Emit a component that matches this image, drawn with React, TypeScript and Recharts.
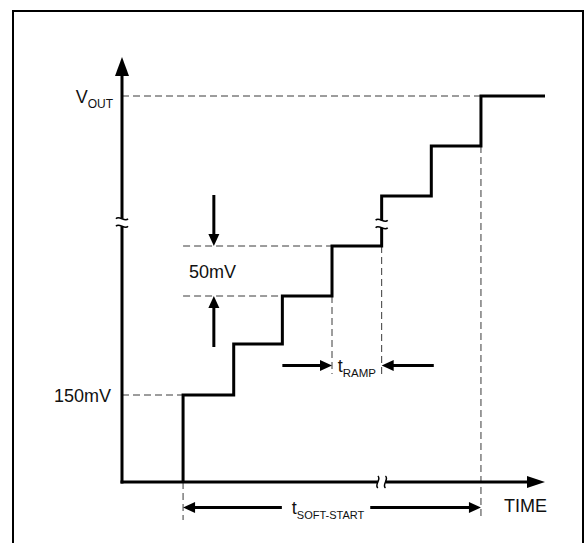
import React from 'react';
import { ComposedChart, Line, XAxis, YAxis, ReferenceLine, ReferenceDot } from 'recharts';

// time axis in units of t_RAMP, 0 = start of soft-start
const timeDomain = [-1.23, 7.29];
// voltage axis in units of one 50mV step (axis is broken in the middle)
const levelDomain = [0, 8.5];

const stepTimes = [0, 1.02, 2, 3, 4, 5, 6];
const stepLevels = [1.74, 2.76, 3.72, 4.72, 5.72, 6.72, 7.72];

const tMin = timeDomain[0];
const tMax = timeDomain[1];
const vOut = stepLevels[stepLevels.length - 1];

const staircase = [
  { t: stepTimes[0], v: 0 },
  ...stepTimes.map((t, i) => ({ t, v: stepLevels[i] })),
  { t: tMax, v: vOut },
];

// dashed guide lines [t1, v1, t2, v2]
const guides = [
  [tMin, vOut, stepTimes[6], vOut],
  [tMin, stepLevels[0], stepTimes[0], stepLevels[0]],
  [stepTimes[0], stepLevels[3], stepTimes[3], stepLevels[3]],
  [stepTimes[0], stepLevels[2], stepTimes[2], stepLevels[2]],
  [stepTimes[3], stepLevels[2], stepTimes[3], 2.16],
  [stepTimes[4], stepLevels[3], stepTimes[4], 2.16],
  [stepTimes[6], stepLevels[5], stepTimes[6], -0.76],
  [stepTimes[0], 0, stepTimes[0], -0.76],
];

// dimension arrows [fromT, fromV, toT, toV]
const arrows = [
  [0.62, 5.74, 0.62, stepLevels[3]],
  [0.62, 2.7, 0.62, stepLevels[2]],
  [2, 2.33, stepTimes[3], 2.33],
  [5.05, 2.33, stepTimes[4], 2.33],
  [1.99, -0.51, stepTimes[0], -0.51],
  [3.77, -0.51, stepTimes[6], -0.51],
];

// axis break marks: [t, v, direction]
const breaks = [
  [tMin, 5.19, 'v'],
  [stepTimes[4], 5.16, 'v'],
  [stepTimes[4], 0, 'h'],
];

const labels = [
  { t: tMin, v: vOut, main: 'V', sub: 'OUT', subSize: 12, anchor: 'end', dx: -9, dy: 6.5 },
  { t: tMin, v: stepLevels[0], main: '150mV', anchor: 'end', dx: -11, dy: 6.5 },
  { t: stepTimes[0], v: 4.22, main: '50mV', anchor: 'start', dx: 6, dy: 6.5 },
  { t: 3.5, v: 2.33, main: 't', sub: 'RAMP', subSize: 11.5, anchor: 'middle', dx: 0, dy: 6.5 },
  { t: 2.92, v: -0.51, main: 't', sub: 'SOFT-START', subSize: 11, anchor: 'middle', dx: 0, dy: 6.5 },
  { t: tMax, v: -0.51, main: 'TIME', anchor: 'end', dx: 2, dy: 4 },
];

const FONT = '"Liberation Sans", Arial, sans-serif';

const arrowShape = (len: number, half: number, width: number, cap = 'butt') => (p: any) => {
  const { x1, y1, x2, y2 } = p;
  const dx = x2 - x1;
  const dy = y2 - y1;
  const d = Math.hypot(dx, dy) || 1;
  const ux = dx / d;
  const uy = dy / d;
  const bx = x2 - ux * len;
  const by = y2 - uy * len;
  const px = -uy * half;
  const py = ux * half;
  return (
    <g>
      <line x1={x1} y1={y1} x2={bx + ux} y2={by + uy} stroke="#000" strokeWidth={width} strokeLinecap={cap as any} />
      <polygon points={`${x2},${y2} ${bx + px},${by + py} ${bx - px},${by - py}`} fill="#000" />
    </g>
  );
};

const breakShape = (dir: string) => (p: any) => {
  const { cx, cy } = p;
  const g = 3.8;
  if (dir === 'v') {
    return (
      <g>
        <rect x={cx - 7} y={cy - g} width={14} height={g * 2} fill="#fff" />
        {[-g, g].map((o) => (
          <path key={o} d={`M${cx - 6},${cy + o} C${cx - 3},${cy + o - 4} ${cx + 3},${cy + o + 4} ${cx + 6},${cy + o}`}
            fill="none" stroke="#000" strokeWidth={1.5} />
        ))}
      </g>
    );
  }
  return (
    <g>
      <rect x={cx - g} y={cy - 7} width={g * 2} height={14} fill="#fff" />
      {[-g, g].map((o) => (
        <path key={o} d={`M${cx + o},${cy - 6} C${cx + o + 4},${cy - 3} ${cx + o - 4},${cy + 3} ${cx + o},${cy + 6}`}
          fill="none" stroke="#000" strokeWidth={1.5} />
      ))}
    </g>
  );
};

const labelShape = (l: any) => (p: any) => (
  <text x={p.cx + l.dx} y={p.cy + l.dy} textAnchor={l.anchor} fontFamily={FONT} fontSize={18} fill="#111">
    <tspan>{l.main}</tspan>
    {l.sub && <tspan fontSize={l.subSize} dy={5}>{l.sub}</tspan>}
  </text>
);

export default function App() {
  return (
    <div style={{ position: 'absolute', left: 0, top: 0, width: 585, height: 543, background: '#fff', overflow: 'hidden' }}>
      <div style={{
        position: 'absolute', left: 12, top: 10, width: 572, height: 560, boxSizing: 'border-box',
        border: '2px solid #000',
      }} />
      <div style={{ position: 'absolute', left: 0, top: 0 }}>
        <ComposedChart width={585} height={543} data={staircase} margin={{ top: 57, right: 40, bottom: 61, left: 122 }}>
          <XAxis type="number" dataKey="t" domain={timeDomain} allowDataOverflow hide />
          <YAxis type="number" domain={levelDomain} allowDataOverflow hide />
          {guides.map((s, i) => (
            <ReferenceLine key={'g' + i} segment={[{ x: s[0], y: s[1] }, { x: s[2], y: s[3] }]}
              ifOverflow="visible" stroke="#3a3a3a" strokeWidth={1} strokeDasharray="7 4" />
          ))}
          <Line type="stepAfter" dataKey="v" stroke="#000" strokeWidth={3} dot={false} activeDot={false}
            isAnimationActive={false} />
          <ReferenceLine segment={[{ x: tMin, y: 0 }, { x: tMin, y: levelDomain[1] }]} ifOverflow="visible"
            shape={arrowShape(19, 7, 3, 'square')} />
          <ReferenceLine segment={[{ x: tMin, y: 0 }, { x: tMax, y: 0 }]} ifOverflow="visible"
            shape={arrowShape(18, 6, 3, 'square')} />
          {arrows.map((a, i) => (
            <ReferenceLine key={'a' + i} segment={[{ x: a[0], y: a[1] }, { x: a[2], y: a[3] }]}
              ifOverflow="visible" shape={arrowShape(12, 5.5, 3)} />
          ))}
          {breaks.map((b, i) => (
            <ReferenceDot key={'b' + i} x={b[0] as number} y={b[1] as number} r={1} ifOverflow="visible"
              shape={breakShape(b[2] as string)} />
          ))}
          {labels.map((l, i) => (
            <ReferenceDot key={'l' + i} x={l.t} y={l.v} r={1} ifOverflow="visible" shape={labelShape(l)} />
          ))}
        </ComposedChart>
      </div>
    </div>
  );
}
